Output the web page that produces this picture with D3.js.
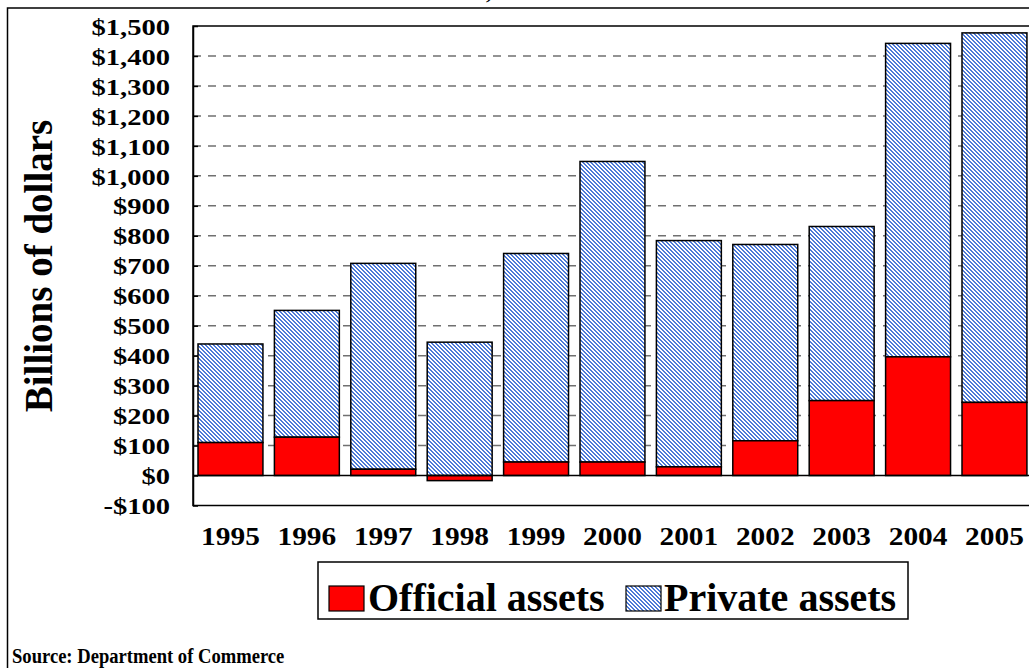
<!DOCTYPE html>
<html>
<head>
<meta charset="utf-8">
<script src="https://cdn.jsdelivr.net/npm/d3@7/dist/d3.min.js"></script>
<style>
  html, body { margin: 0; padding: 0; background: #fff; }
  svg { display: block; font-family: "Liberation Serif", "Times New Roman", serif; font-weight: bold; }
</style>
</head>
<body>
<svg id="chart" width="1029" height="668"></svg>
<script>
const years = ["1995","1996","1997","1998","1999","2000","2001","2002","2003","2004","2005"];
const officialAssets = [110, 128, 21, -17, 45, 45, 29, 116, 250, 396, 244];
const privateAssets = [329, 423, 687, 445, 696, 1003, 755, 655, 581, 1046, 1233];
const yTickValues = [-100, 0, 100, 200, 300, 400, 500, 600, 700, 800, 900, 1000, 1100, 1200, 1300, 1400, 1500];
const yTickLabels = ["-$100","$0","$100","$200","$300","$400","$500","$600","$700","$800","$900","$1,000","$1,100","$1,200","$1,300","$1,400","$1,500"];
const seriesNames = ["Official assets", "Private assets"];
const yAxisTitle = "Billions of dollars";
const sourceText = "Source: Department of Commerce";

const svg = d3.select("#chart");

// fine diagonal pattern for private assets
const defs = svg.append("defs");
const pat = defs.append("pattern")
  .attr("id", "hatch")
  .attr("patternUnits", "userSpaceOnUse")
  .attr("width", 4).attr("height", 4);
pat.append("rect").attr("width", 4).attr("height", 4).attr("fill", "#ffffff");
for (let px = 0; px < 4; px++) {
  for (let py = 0; py < 4; py++) {
    const m = ((px - py) % 4 + 4) % 4;
    if (m === 0 || m === 1) {
      pat.append("rect").attr("x", px).attr("y", py).attr("width", 1).attr("height", 1)
        .attr("fill", "#4d7ad8").attr("shape-rendering", "crispEdges");
    }
  }
}

// outer frame
svg.append("rect").attr("x", 7.5).attr("y", 8).attr("width", 1200).attr("height", 800)
  .attr("fill", "none").attr("stroke", "#000").attr("stroke-width", 1.5);

// title fragment (clipped at top in the reference)
svg.append("text").attr("x", 486).attr("y", -1).attr("font-size", 22).text(",");

const plotLeft = 193, plotTop = 26, plotBottom = 505.5;
const y = d3.scaleLinear().domain([-100, 1500]).range([plotBottom, plotTop]);
const step = 76.4;
const x = d3.scaleBand().domain(years)
  .range([198 - step * 0.075, 198 - step * 0.075 + step * years.length])
  .paddingInner(0.15).paddingOuter(0.075);

// gridlines
svg.append("g").selectAll("line").data(yTickValues.filter(v => v > 0 && v < 1500)).join("line")
  .attr("x1", plotLeft).attr("x2", 1040)
  .attr("y1", d => y(d)).attr("y2", d => y(d))
  .attr("stroke", "#707070").attr("stroke-width", 1.5).attr("stroke-dasharray", "8,7");

// plot area border
svg.append("rect").attr("x", plotLeft).attr("y", plotTop).attr("width", 1100).attr("height", plotBottom - plotTop)
  .attr("fill", "none").attr("stroke", "#000").attr("stroke-width", 1.5);

// bars
const g = svg.append("g");
years.forEach((yr, i) => {
  const off = officialAssets[i];
  const pv = privateAssets[i];
  const base = Math.max(0, off);
  g.append("rect")
    .attr("x", x(yr)).attr("width", x.bandwidth())
    .attr("y", y(base + pv)).attr("height", y(base) - y(base + pv))
    .attr("fill", "url(#hatch)").attr("stroke", "#000").attr("stroke-width", 1.5);
  g.append("rect")
    .attr("x", x(yr)).attr("width", x.bandwidth())
    .attr("y", y(Math.max(0, off))).attr("height", Math.abs(y(off) - y(0)))
    .attr("fill", "#ff0000").attr("stroke", "#000").attr("stroke-width", 1.5);
});

// zero line
svg.append("line").attr("x1", plotLeft).attr("x2", 1040).attr("y1", y(0)).attr("y2", y(0))
  .attr("stroke", "#000").attr("stroke-width", 1.5);

// y axis
const ySx = 1.19;
const yAxis = d3.axisLeft(y).tickValues(yTickValues)
  .tickFormat((d, i) => yTickLabels[i]).tickSizeInner(-5).tickSizeOuter(0).tickPadding(23);
const yg = svg.append("g").attr("transform", `translate(${plotLeft},0)`).call(yAxis);
yg.attr("font-family", null).attr("font-size", null);
yg.select(".domain").attr("stroke", "#000").attr("stroke-width", 1.5);
yg.selectAll(".tick line").attr("stroke", "#000").attr("stroke-width", 1.5);
yg.selectAll(".tick text")
  .attr("font-size", 24).attr("font-family", "Liberation Serif").attr("font-weight", "bold")
  .attr("fill", "#000").attr("dy", "0.34em")
  .attr("x", -23 / ySx).attr("transform", `scale(${ySx},1)`);

// x axis
const xSx = 1.13;
const xAxis = d3.axisBottom(x).tickSize(0).tickPadding(0);
const xg = svg.append("g").attr("transform", `translate(0,${plotBottom})`).call(xAxis);
xg.attr("font-family", null).attr("font-size", null);
xg.select(".domain").remove();
xg.selectAll(".tick text")
  .attr("font-size", 26).attr("font-family", "Liberation Serif").attr("font-weight", "bold")
  .attr("fill", "#000").attr("dy", 0).attr("y", 40)
  .attr("transform", `scale(${xSx},1)`);

// y axis title
svg.append("text")
  .attr("transform", "translate(52,266) rotate(-90)")
  .attr("text-anchor", "middle").attr("font-size", 39).text(yAxisTitle);

// legend
const lg = svg.append("g");
lg.append("rect").attr("x", 318).attr("y", 562).attr("width", 590).attr("height", 57)
  .attr("fill", "#fff").attr("stroke", "#000").attr("stroke-width", 1.5);
const legendItems = [
  { name: seriesNames[0], fill: "#ff0000", sx: 329, tx: 368 },
  { name: seriesNames[1], fill: "url(#hatch)", sx: 626, tx: 664 }
];
legendItems.forEach(it => {
  lg.append("rect").attr("x", it.sx).attr("y", 586).attr("width", 35).attr("height", 25)
    .attr("fill", it.fill).attr("stroke", "#000").attr("stroke-width", 1.2);
  lg.append("text").attr("x", it.tx).attr("y", 611).attr("font-size", 40).text(it.name);
});

// source
svg.append("text").attr("transform", "translate(12,663) scale(0.93,1)")
  .attr("font-size", 20).text(sourceText);
</script>
</body>
</html>
